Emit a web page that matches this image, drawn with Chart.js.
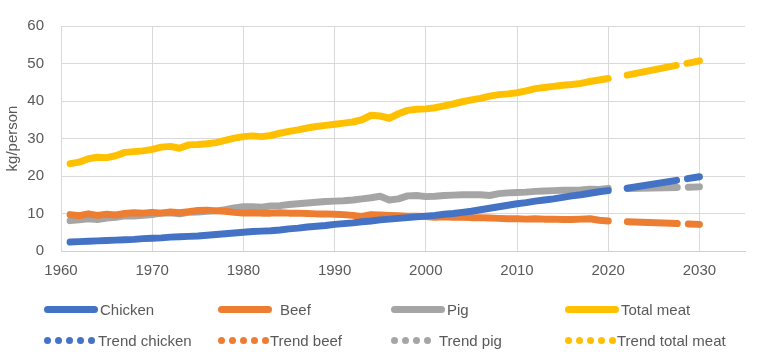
<!DOCTYPE html>
<html>
<head>
<meta charset="utf-8">
<script src="https://cdn.jsdelivr.net/npm/chart.js@4/dist/chart.umd.min.js"></script>
<style>
  html, body { margin: 0; padding: 0; background: #fff; }
  #wrap { position: relative; width: 768px; height: 357px; }
  canvas { position: absolute; left: 0; top: 0; }
  .lg { position: absolute; height: 20px; display: flex; align-items: center;
        font-family: "Liberation Sans", Arial, sans-serif;
        font-size: 15px; color: #595959; white-space: nowrap; }
  .solid { width: 54px; height: 7px; border-radius: 3.5px; }
  .dots { display: flex; gap: 4px; }
  .dot { width: 7px; height: 7px; border-radius: 50%; }
</style>
</head>
<body>
<div id="wrap"><canvas id="c" width="768" height="357"></canvas></div>
<script>
const years = [];
for (let y = 1961; y <= 2020; y++) years.push(y);

const chicken = [2.4,2.5,2.6,2.7,2.8,2.9,3.0,3.1,3.3,3.4,3.5,3.7,3.8,3.9,4.0,4.2,4.4,4.6,4.8,5.0,
  5.2,5.3,5.4,5.6,5.9,6.1,6.4,6.6,6.8,7.1,7.3,7.5,7.8,8.0,8.3,8.5,8.7,8.9,9.1,9.3,
  9.5,9.8,10.0,10.3,10.6,11.0,11.4,11.8,12.2,12.6,12.9,13.3,13.6,13.9,14.3,14.7,15.0,15.4,15.8,16.1];
const beef = [9.7,9.4,9.9,9.5,9.8,9.6,10.0,10.2,10.1,10.3,10.1,10.4,10.2,10.5,10.8,10.9,10.7,10.6,10.3,10.1,
  10.2,10.1,10.1,10.2,10.1,10.1,10.0,9.9,9.9,9.8,9.7,9.5,9.2,9.7,9.6,9.5,9.4,9.3,9.3,9.2,
  9.0,9.1,9.0,9.0,8.9,8.9,8.8,8.7,8.6,8.6,8.5,8.6,8.5,8.5,8.4,8.4,8.5,8.6,8.2,8.0];
const pig = [8.1,8.3,8.6,8.4,8.8,9.0,9.4,9.3,9.5,9.7,10.1,10.2,9.9,10.3,10.4,10.6,10.7,11.0,11.5,11.8,
  11.8,11.7,12.0,12.1,12.4,12.6,12.8,13.0,13.2,13.3,13.4,13.6,13.9,14.2,14.6,13.6,13.9,14.7,14.8,14.5,
  14.6,14.8,14.9,15.0,15.0,15.0,14.8,15.3,15.5,15.6,15.7,15.9,16.0,16.1,16.2,16.2,16.3,16.5,16.4,16.7];
const totalMeat = [23.3,23.7,24.6,25.0,24.9,25.4,26.3,26.5,26.7,27.1,27.7,27.9,27.4,28.3,28.4,28.6,28.9,29.5,30.1,30.5,
  30.7,30.5,30.8,31.4,31.9,32.3,32.8,33.2,33.5,33.8,34.1,34.4,35.0,36.2,36.0,35.4,36.6,37.5,37.8,37.9,
  38.2,38.7,39.2,39.8,40.3,40.7,41.3,41.7,41.9,42.2,42.7,43.3,43.6,43.9,44.2,44.4,44.7,45.2,45.6,46.0];

const trendYears = [2021, 2030];
const trendChicken = [16.3, 19.8];
const trendBeef = [7.9, 7.1];
const trendPig = [16.6, 17.1];
const trendTotal = [46.4, 50.7];

const xTicks = [1960, 1970, 1980, 1990, 2000, 2010, 2020, 2030];
const yTicks = [0, 10, 20, 30, 40, 50, 60];

const colors = { chicken: '#4472C4', beef: '#ED7D31', pig: '#A5A5A5', total: '#FFC000' };

const pts = (xs, ys) => xs.map((x, i) => ({ x: x, y: ys[i] }));

function solidDs(label, xs, ys, color) {
  return { label, data: pts(xs, ys), borderColor: color, backgroundColor: color,
    borderWidth: 7, pointRadius: 0, tension: 0, borderCapStyle: 'round', borderJoinStyle: 'round',
    fill: false, _kind: 'solid' };
}
function trendDs(label, xs, ys, color) {
  return { label, data: pts(xs, ys), borderColor: color, backgroundColor: color,
    borderWidth: 7, pointRadius: 0, tension: 0, borderCapStyle: 'round', borderJoinStyle: 'round',
    borderDash: [50, 11], borderDashOffset: 51, fill: false, _kind: 'trend' };
}

const datasets = [
  solidDs('Chicken', years, chicken, colors.chicken),
  solidDs('Beef', years, beef, colors.beef),
  solidDs('Pig', years, pig, colors.pig),
  solidDs('Total meat', years, totalMeat, colors.total),
  trendDs('Trend chicken', trendYears, trendChicken, colors.chicken),
  trendDs('Trend beef', trendYears, trendBeef, colors.beef),
  trendDs('Trend pig', trendYears, trendPig, colors.pig),
  trendDs('Trend total meat', trendYears, trendTotal, colors.total)
];

const font = { family: '"Liberation Sans", Arial, sans-serif', size: 15 };

const chart = new Chart(document.getElementById('c'), {
  type: 'line',
  data: { datasets },
  options: {
    responsive: false,
    animation: false,
    layout: { padding: { top: 17, right: 23, bottom: 76, left: 0 } },
    plugins: { legend: { display: false }, tooltip: { enabled: false } },
    scales: {
      x: {
        type: 'linear', min: 1960, max: 2035,
        afterBuildTicks: s => { s.ticks = xTicks.map(v => ({ value: v })); },
        afterFit: s => { s.height = 30; },
        grid: { color: '#d9d9d9', lineWidth: 1, drawTicks: false },
        border: { color: '#d0d0d0', width: 1 },
        ticks: { color: '#595959', font, padding: 11, maxRotation: 0, autoSkip: false,
                 callback: v => String(v) }
      },
      y: {
        min: 0, max: 60,
        afterBuildTicks: s => { s.ticks = yTicks.map(v => ({ value: v })); },
        afterFit: s => { s.width = 61; },
        grid: { color: '#d9d9d9', lineWidth: 1, drawTicks: false },
        border: { display: false },
        ticks: { color: '#595959', font, padding: 17 },
        title: { display: true, text: 'kg/person', color: '#595959',
                 font: { family: font.family, size: 15 }, padding: { top: 4, bottom: 4 } }
      }
    }
  }
});

// HTML legend built from the chart's datasets
const wrap = document.getElementById('wrap');
const samplePos = [44, 218, 391, 565];
const textGap = [[2, 8, 2, 2], [3, 1, 8, 1]];
const rowY = [299, 330];
chart.data.datasets.forEach((ds, i) => {
  const row = ds._kind === 'solid' ? 0 : 1;
  const col = i % 4;
  const item = document.createElement('div');
  item.className = 'lg';
  item.style.left = samplePos[col] + 'px';
  item.style.top = rowY[row] + 'px';
  let sample;
  if (row === 0) {
    sample = document.createElement('div');
    sample.className = 'solid';
    sample.style.background = ds.borderColor;
  } else {
    sample = document.createElement('div');
    sample.className = 'dots';
    const n = col === 2 ? 4 : 5;
    for (let k = 0; k < n; k++) {
      const d = document.createElement('div');
      d.className = 'dot';
      d.style.background = ds.borderColor;
      sample.appendChild(d);
    }
  }
  sample.style.marginRight = textGap[row][col] + 'px';
  item.appendChild(sample);
  const t = document.createElement('span');
  t.textContent = ds.label;
  item.appendChild(t);
  wrap.appendChild(item);
});
</script>
</body>
</html>
